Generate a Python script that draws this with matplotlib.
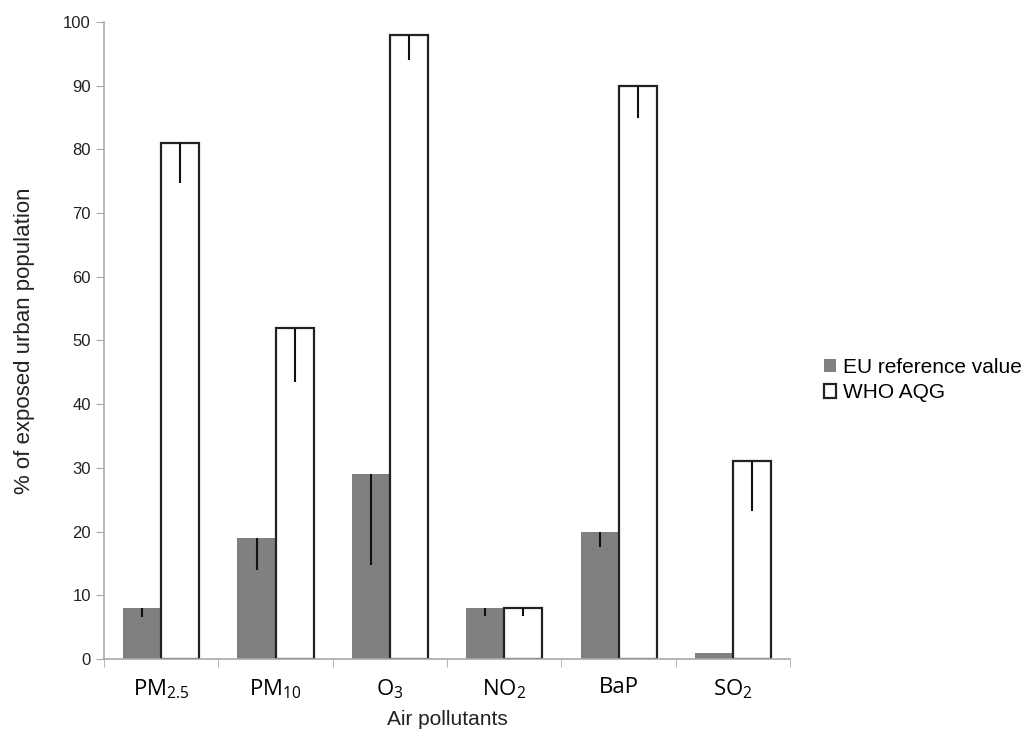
import numpy as np
import matplotlib
matplotlib.use("Agg")
from matplotlib import pyplot as plt
from matplotlib import font_manager

# data
pollutants = [r'PM$_{2.5}$', r'PM$_{10}$', r'O$_3$', r'NO$_2$', 'BaP', r'SO$_2$']
eu_values = [8, 19, 29, 8, 20, 1]
eu_lower = [8 - 6.6, 19 - 14, 29 - 14.8, 8 - 6.8, 20 - 17.6, 0]
who_values = [81, 52, 98, 8, 90, 31]
who_lower = [81 - 74.7, 52 - 43.5, 98 - 94, 8 - 6.8, 90 - 85, 31 - 23.2]

plt.rcParams['font.family'] = ['Liberation Sans', 'DejaVu Sans']
plt.rcParams['mathtext.fontset'] = 'custom'
plt.rcParams['mathtext.rm'] = 'Open Sans'
plt.rcParams['mathtext.it'] = 'Open Sans'

fig = plt.figure(figsize=(10.35, 7.37), dpi=100)
ax = fig.add_axes([0.1005, 0.106, 0.663, 0.864])

x = np.arange(len(pollutants))
w = 0.333
ax.bar(x - w / 2, eu_values, w, color='#808080', edgecolor='none',
       label='EU reference value')
ax.bar(x + w / 2, who_values, w, color='white', edgecolor='#222222',
       linewidth=1.6, label='WHO AQG')
ax.errorbar(x - w / 2, eu_values, yerr=[eu_lower, np.zeros(len(x))],
            fmt='none', ecolor='#111111', elinewidth=1.5, capsize=0)
ax.errorbar(x + w / 2, who_values, yerr=[who_lower, np.zeros(len(x))],
            fmt='none', ecolor='#111111', elinewidth=1.5, capsize=0)

ax.set_xlim(-0.5, len(x) - 0.5)
ax.set_ylim(0, 100)
ax.set_yticks(np.arange(0, 101, 10))
ax.set_xticks(x)
ax.set_xticklabels(pollutants, fontsize=16, family='Open Sans')
ax.set_xticks(np.arange(-0.5, len(x), 1), minor=True)
ax.tick_params(axis='x', which='major', length=0, pad=13)
ax.tick_params(axis='x', which='minor', length=6, color='#aaaaaa')
ax.tick_params(axis='y', labelsize=12, length=6, color='#aaaaaa',
               labelcolor='#222222')

for s in ['top', 'right']:
    ax.spines[s].set_visible(False)
for s in ['left', 'bottom']:
    ax.spines[s].set_color('#aaaaaa')
    ax.spines[s].set_linewidth(1.2)

ax.set_xlabel('Air pollutants', fontsize=15, labelpad=7, color='#222222')
ax.set_ylabel('% of exposed urban population', fontsize=16,
              labelpad=20, color='#222222')

fig.legend(loc='center left', bbox_to_anchor=(0.778, 0.484), frameon=False,
           fontsize=15, handlelength=0.6, handleheight=0.6,
           handletextpad=0.3, labelspacing=0.3)

fig.savefig('out.png', dpi=100)
